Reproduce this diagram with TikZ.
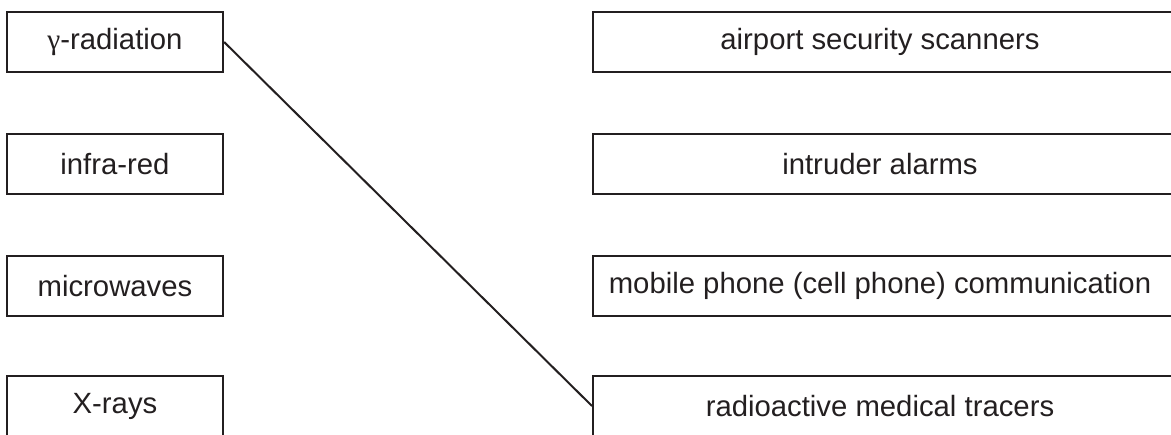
\documentclass[tikz,border=0pt]{standalone}
\usepackage{fontspec}
\setmainfont{Liberation Sans}
\newfontfamily\gammafont{Liberation Serif}
\definecolor{ink}{HTML}{231F20}
\begin{document}
\begin{tikzpicture}[x=1pt,y=-1pt,
  box/.style={draw=ink, line width=2.2pt, rectangle, inner sep=0pt},
  lbox/.style={box, minimum width=216pt, minimum height=60pt},
  rbox/.style={box, minimum width=620pt, minimum height=60pt},
  txt/.style={text=ink, font=\fontsize{29.3}{34}\selectfont, inner sep=0pt},
  link/.style={draw=ink, line width=2pt}]
\useasboundingbox (0,0) rectangle (1171,435);
\clip (0,0) rectangle (1171,435);
% left boxes
\node[lbox] (l1) at (115,42) {};
\node[lbox] (l2) at (115,164) {};
\node[lbox] (l3) at (115,286) {};
\node[lbox] (l4) at (115,406) {};
\node[txt] (t1) at (115,42) {{\gammafont γ}-radiation};
\node[txt] (t2) at (115,164) {infra-red};
\node[txt] (t3) at (115,286) {microwaves};
\node[txt] (t4) at (115,406) {X-rays};
% right boxes
\node[rbox, anchor=west] (r1) at (592,42) {};
\node[rbox, anchor=west] (r2) at (592,164) {};
\node[rbox, anchor=west] (r3) at (592,286) {};
\node[rbox, anchor=west] (r4) at (592,406) {};
\node[txt] (s1) at (880,42) {airport security scanners};
\node[txt] (s2) at (880,164) {intruder alarms};
\node[txt] (s3) at (880,286) {mobile phone (cell phone) communication};
\node[txt] (s4) at (880,406) {radioactive medical tracers};
% connector
\draw[link] (l1.east) -- (r4.west);
\end{tikzpicture}
\end{document}
